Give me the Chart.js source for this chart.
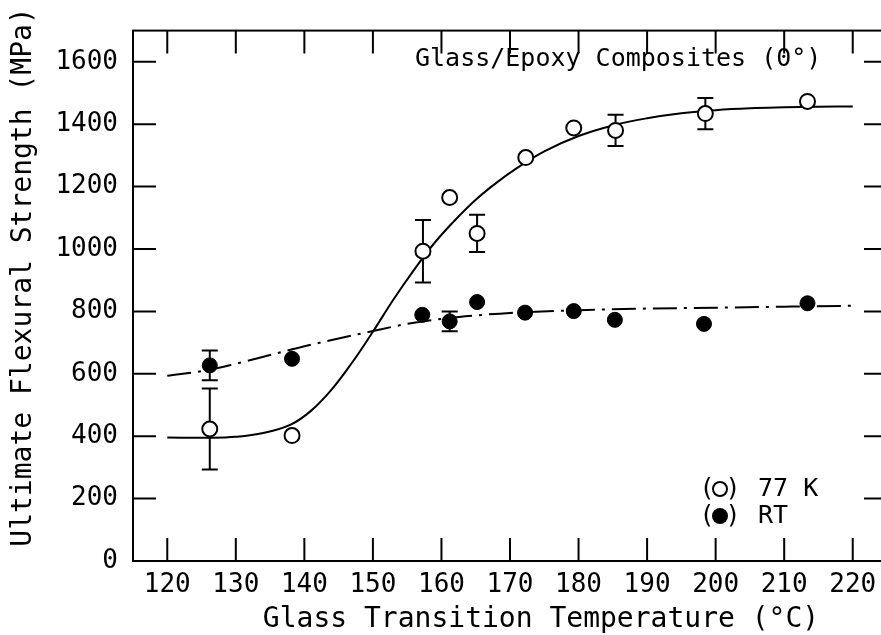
<!DOCTYPE html>
<html>
<head>
<meta charset="utf-8">
<script src="https://cdn.jsdelivr.net/npm/chart.js@4.4.1/dist/chart.umd.min.js"></script>
<style>
  html, body { margin: 0; padding: 0; background: #fff; overflow: hidden; }
  #wrap { width: 900px; height: 635px; }
</style>
</head>
<body>
<div id="wrap"><canvas id="flexChart" width="900" height="635"></canvas></div>
<script>
// axis ticks
const tempTicks = [120, 130, 140, 150, 160, 170, 180, 190, 200, 210, 220];
const strengthTicks = [0, 200, 400, 600, 800, 1000, 1200, 1400, 1600];

// measured points, 77 K
const tg77 = [126.2, 138.2, 157.3, 161.2, 165.2, 172.3, 179.3, 185.4, 198.5, 213.4];
const strength77 = [423, 402, 993, 1165, 1050, 1293, 1388, 1380, 1434, 1473];
const err77 = [130, 0, 100, 0, 60, 0, 0, 50, 50, 0];

// measured points, room temperature
const tgRT = [126.2, 138.2, 157.2, 161.2, 165.2, 172.2, 179.3, 185.3, 198.3, 213.4];
const strengthRT = [627, 648, 789, 768, 830, 796, 801, 773, 760, 826];
const errRT = [48, 0, 0, 32, 0, 0, 0, 0, 0, 0];

// hand-drawn trend curves
const fit77Temp = [120, 126, 130, 134, 138, 141, 144, 147, 150, 153, 156, 159, 162, 165, 168, 171, 175, 180, 185, 190, 195, 200, 205, 210, 215, 220];
const fit77Strength = [396, 395, 398, 410, 437, 482, 550, 637, 735, 838, 933, 1020, 1093, 1158, 1212, 1259, 1313, 1362, 1396, 1419, 1435, 1445, 1451, 1454, 1456, 1457];
const fitRTTemp = [120, 126, 130, 135, 140, 145, 150, 155, 160, 165, 170, 180, 190, 200, 210, 220];
const fitRTStrength = [594, 612, 632, 660, 688, 713, 737, 760, 776, 787, 795, 804, 809, 812, 815, 818];

const FONT = '"DejaVu Sans Mono", "Liberation Mono", monospace';
const toXY = (xs, ys) => xs.map((x, i) => ({ x: x, y: ys[i] }));

// error bars, drawn under the markers
const errorBars = {
  id: 'errorBars',
  beforeDatasetsDraw(chart) {
    const { ctx, scales: { x, y } } = chart;
    const sets = [[tg77, strength77, err77], [tgRT, strengthRT, errRT]];
    ctx.save();
    ctx.strokeStyle = '#000';
    ctx.lineWidth = 2;
    sets.forEach(([xs, ys, es]) => {
      xs.forEach((t, i) => {
        if (!es[i]) return;
        const px = x.getPixelForValue(t);
        const top = y.getPixelForValue(ys[i] + es[i]);
        const bot = y.getPixelForValue(ys[i] - es[i]);
        ctx.beginPath();
        ctx.moveTo(px, top); ctx.lineTo(px, bot);
        ctx.moveTo(px - 8, top); ctx.lineTo(px + 8, top);
        ctx.moveTo(px - 8, bot); ctx.lineTo(px + 8, bot);
        ctx.stroke();
      });
    });
    ctx.restore();
  }
};

// box, inward ticks and text
const frame = {
  id: 'frame',
  afterDraw(chart) {
    const { ctx, chartArea: a, scales: { x, y } } = chart;
    const len = 23;
    ctx.save();
    ctx.strokeStyle = '#000';
    ctx.lineWidth = 2;
    ctx.strokeRect(a.left, a.top, a.right - a.left, a.bottom - a.top);
    ctx.beginPath();
    tempTicks.forEach(t => {
      const px = x.getPixelForValue(t);
      ctx.moveTo(px, a.bottom); ctx.lineTo(px, a.bottom - len);
      ctx.moveTo(px, a.top); ctx.lineTo(px, a.top + len);
    });
    strengthTicks.forEach(v => {
      if (v === 0) return;
      const py = y.getPixelForValue(v);
      ctx.moveTo(a.left, py); ctx.lineTo(a.left + len, py);
      ctx.moveTo(a.right, py); ctx.lineTo(a.right - len, py);
    });
    ctx.stroke();

    ctx.fillStyle = '#000';
    ctx.textBaseline = 'middle';

    ctx.font = '28px ' + FONT;
    ctx.textAlign = 'center';
    ctx.fillText('Glass Transition Temperature (°C)', 541, 620);
    ctx.save();
    ctx.translate(24, 277);
    ctx.rotate(-Math.PI / 2);
    ctx.fillText('Ultimate Flexural Strength (MPa)', 0, 0);
    ctx.restore();

    ctx.font = '25px ' + FONT;
    ctx.textAlign = 'left';
    ctx.fillText('Glass/Epoxy Composites (0°)', 415, 59);

    // key
    const rows = [['77 K', '#fff', 489], ['RT', '#000', 516]];
    rows.forEach(([label, fill, ry]) => {
      ctx.textAlign = 'center';
      ctx.fillText('(', 707, ry);
      ctx.fillText(')', 733, ry);
      ctx.beginPath();
      ctx.arc(720, ry, 7, 0, Math.PI * 2);
      ctx.fillStyle = fill;
      ctx.fill();
      ctx.stroke();
      ctx.fillStyle = '#000';
      ctx.textAlign = 'left';
      ctx.fillText(label, 758, ry);
    });
    ctx.restore();
  }
};

new Chart(document.getElementById('flexChart'), {
  type: 'scatter',
  data: {
    datasets: [
      {
        label: '77 K',
        data: toXY(tg77, strength77),
        backgroundColor: '#fff',
        borderColor: '#000',
        borderWidth: 2,
        pointRadius: 7.5,
        order: 0
      },
      {
        label: 'RT',
        data: toXY(tgRT, strengthRT),
        backgroundColor: '#000',
        borderColor: '#000',
        borderWidth: 1,
        pointRadius: 7.5,
        order: 0
      },
      {
        type: 'line',
        label: '77 K trend',
        data: toXY(fit77Temp, fit77Strength),
        borderColor: '#000',
        borderWidth: 2,
        pointRadius: 0,
        tension: 0.4,
        order: 1
      },
      {
        type: 'line',
        label: 'RT trend',
        data: toXY(fitRTTemp, fitRTStrength),
        borderColor: '#000',
        borderWidth: 2,
        borderDash: [24, 7, 3, 7],
        pointRadius: 0,
        cubicInterpolationMode: 'monotone',
        order: 1
      }
    ]
  },
  options: {
    responsive: false,
    animation: false,
    layout: { padding: { top: 12, right: 13, bottom: 0, left: 0 } },
    plugins: { legend: { display: false }, tooltip: { enabled: false } },
    scales: {
      x: {
        type: 'linear',
        min: 115,
        max: 225,
        grid: { display: false, drawTicks: false },
        border: { display: false },
        ticks: { color: '#000', padding: 9, font: { family: FONT, size: 26 }, callback: v => String(v) },
        afterBuildTicks: s => { s.ticks = tempTicks.map(v => ({ value: v })); },
        afterFit: s => { s.height = 74; }
      },
      y: {
        min: 0,
        max: 1700,
        grid: { display: false, drawTicks: false },
        border: { display: false },
        ticks: { color: '#000', padding: 15, font: { family: FONT, size: 26 }, callback: v => String(v) },
        afterBuildTicks: s => { s.ticks = strengthTicks.map(v => ({ value: v })); },
        afterFit: s => { s.width = 133; }
      }
    }
  },
  plugins: [errorBars, frame]
});
</script>
</body>
</html>
